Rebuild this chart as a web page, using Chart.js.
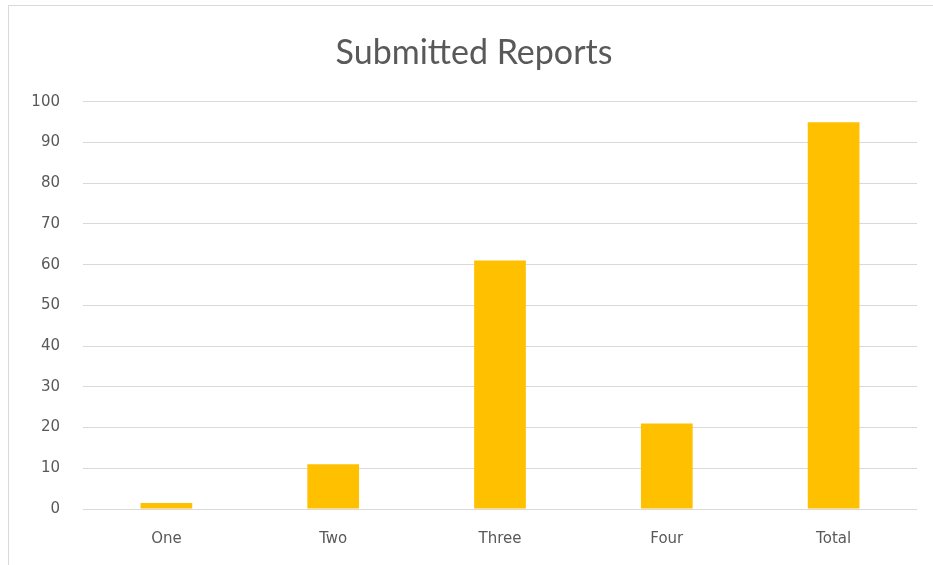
<!DOCTYPE html>
<html>
<head>
<meta charset="utf-8">
<script src="https://cdn.jsdelivr.net/npm/chart.js@4.4.0/dist/chart.umd.min.js"></script>
<style>
    body { margin: 0; background: #fff; }
    #wrap { position: relative; width: 933px; height: 565px; }
    #frame { position: absolute; left: 8px; top: 5px; width: 940px; height: 570px; border: 1px solid #d9d9d9; box-sizing: border-box; }
    canvas { position: absolute; left: 0; top: 0; }
</style>
</head>
<body>
<div id="wrap">
    <div id="frame"></div>
    <canvas id="reportChart" width="933" height="565"></canvas>
</div>
<script>
// ===================== DATA ===================== //
const categories = ["One", "Two", "Three", "Four", "Total"];
const reports = [1.5, 11, 61, 21, 95];
const yTicks = [0, 10, 20, 30, 40, 50, 60, 70, 80, 90, 100];

const textColor = "#595959";
const gridColor = "#d9d9d9";
const tickFont = { family: "'DejaVu Sans', sans-serif", size: 15 };

// ===================== CHART ===================== //
const ctx = document.getElementById("reportChart").getContext("2d");

new Chart(ctx, {
    type: "bar",
    data: {
        labels: categories,
        datasets: [{
            label: "Submitted Reports",
            data: reports,
            backgroundColor: "#ffc000",
            categoryPercentage: 1,
            barPercentage: 0.31
        }]
    },
    options: {
        responsive: false,
        animation: false,
        layout: { padding: { left: 31, right: 16, top: 0, bottom: 8 } },
        plugins: {
            legend: { display: false },
            tooltip: { enabled: false },
            title: {
                display: true,
                text: "Submitted Reports",
                color: textColor,
                font: { family: "Lato, sans-serif", size: 34, weight: "normal" },
                padding: { top: 33, bottom: 28 }
            }
        },
        scales: {
            x: {
                grid: { display: false, drawTicks: false },
                border: { display: false },
                ticks: { color: textColor, font: tickFont, padding: 21 },
                afterFit: (scale) => { scale.height = 48; }
            },
            y: {
                min: 0,
                max: 100,
                afterBuildTicks: (scale) => { scale.ticks = yTicks.map(v => ({ value: v })); },
                grid: { color: gridColor, lineWidth: 1, drawTicks: false },
                border: { display: false },
                ticks: { color: textColor, font: tickFont, padding: 23 },
                afterFit: (scale) => { scale.width = 52; }
            }
        }
    }
});
</script>
</body>
</html>
